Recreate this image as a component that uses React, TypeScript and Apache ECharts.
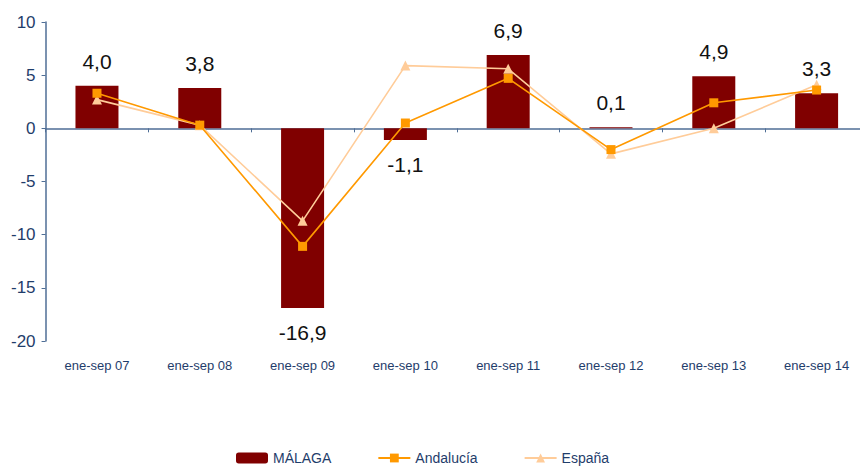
import React, { useEffect, useRef } from "react";
import * as echarts from "echarts";

const categories = ["ene-sep 07", "ene-sep 08", "ene-sep 09", "ene-sep 10", "ene-sep 11", "ene-sep 12", "ene-sep 13", "ene-sep 14"];
const malaga = [4.0, 3.8, -16.9, -1.1, 6.9, 0.1, 4.9, 3.3];
const andalucia = [3.3, 0.3, -11.1, 0.5, 4.7, -2.0, 2.4, 3.6];
const espana = [2.7, 0.3, -8.7, 5.9, 5.6, -2.4, 0.0, 4.1];

const FONT = "'Liberation Sans', Arial, sans-serif";
const AXIS_TEXT = "#1F3D6B";
const AXIS_LINE = "#4F6E96";

export default function App() {
  const ref = useRef<HTMLDivElement>(null);
  useEffect(() => {
    if (!ref.current) return;
    const chart = echarts.init(ref.current, undefined, { renderer: "svg" });
    chart.setOption({
      animation: false,
      textStyle: { fontFamily: FONT },
      grid: { left: 36, top: 14, width: 832, height: 319 },
      legend: {
        top: 443,
        left: 228,
        padding: 0,
        itemWidth: 32,
        itemHeight: 11,
        itemGap: 46,
        textStyle: { color: AXIS_TEXT, fontSize: 14, fontFamily: FONT },
        data: [
          { name: "MÁLAGA" },
          { name: "Andalucía" },
          { name: "España" },
        ],
      },
      xAxis: [
        {
          type: "category",
          data: categories,
          position: "bottom",
          axisLine: { show: false, onZero: false },
          axisTick: { show: false },
          axisLabel: { color: AXIS_TEXT, fontSize: 13, margin: 18, fontFamily: FONT },
        },
        {
          type: "category",
          data: categories,
          position: "bottom",
          axisLine: { show: true, onZero: true, lineStyle: { color: AXIS_LINE, width: 1.5 } },
          axisTick: { show: true, length: 4, lineStyle: { color: AXIS_LINE } },
          axisLabel: { show: false },
        },
      ],
      yAxis: {
        type: "value",
        min: -20,
        max: 10,
        interval: 5,
        splitLine: { show: false },
        axisLine: { show: true, lineStyle: { color: AXIS_LINE, width: 1.5 } },
        axisTick: { show: true, length: 4, lineStyle: { color: AXIS_LINE } },
        axisLabel: { color: AXIS_TEXT, fontSize: 17, margin: 10, fontFamily: FONT },
      },
      series: [
        {
          name: "MÁLAGA",
          type: "bar",
          data: malaga,
          barWidth: 43,
          itemStyle: { color: "#800000" },
          label: {
            show: true,
            position: "outside",
            distance: 14,
            color: "#111",
            fontSize: 21,
            fontFamily: FONT,
            formatter: (p: any) => p.value.toFixed(1).replace(".", ","),
          },
          z: 1,
        },
        {
          name: "Andalucía",
          type: "line",
          data: andalucia,
          symbol: "rect",
          symbolSize: 9,
          color: "#FF9900",
          lineStyle: { color: "#FF9900", width: 1.6 },
          itemStyle: { color: "#FF9900" },
          z: 3,
        },
        {
          name: "España",
          type: "line",
          data: espana,
          symbol: "triangle",
          symbolSize: 10,
          color: "#FFCC99",
          lineStyle: { color: "#FFCC99", width: 1.6 },
          itemStyle: { color: "#FFCC99" },
          z: 2,
        },
      ],
    });
    return () => chart.dispose();
  }, []);
  return <div ref={ref} style={{ width: 860, height: 460 }} />;
}
